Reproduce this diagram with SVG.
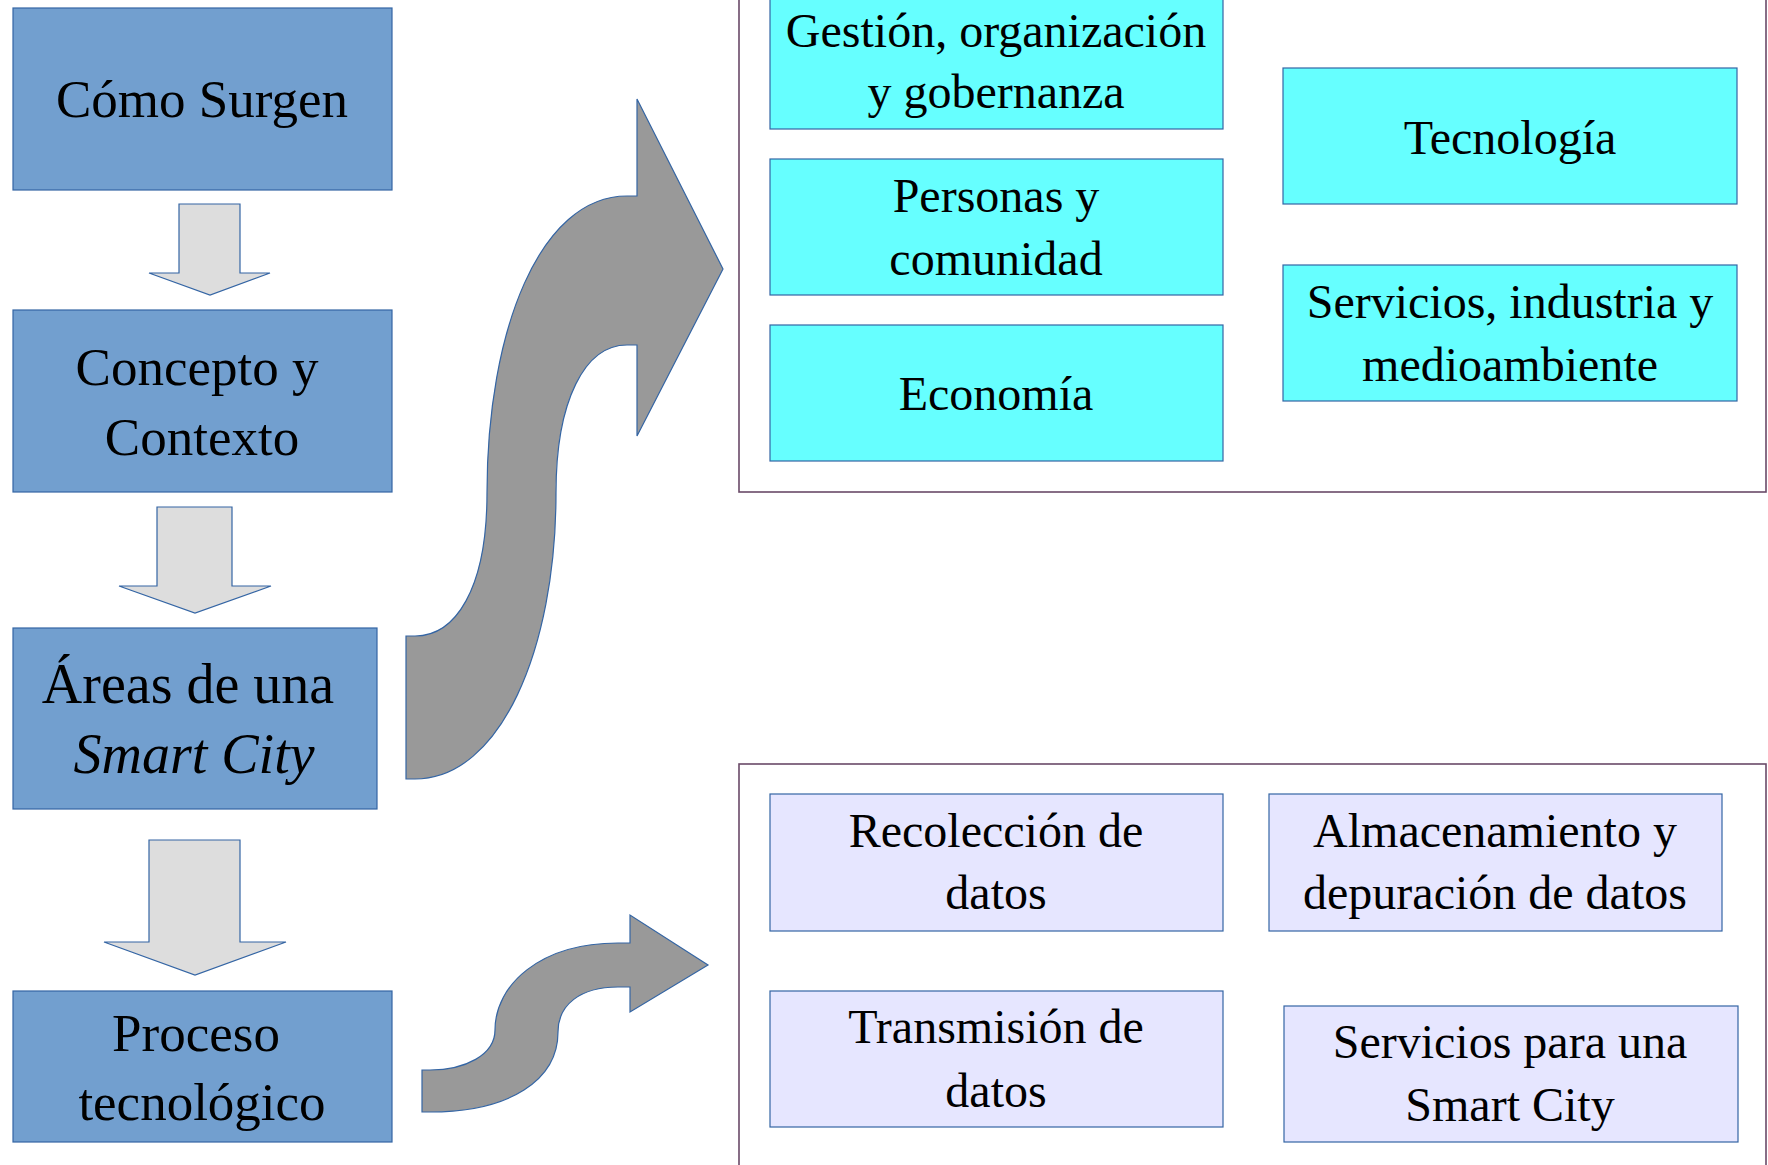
<svg xmlns="http://www.w3.org/2000/svg" width="1768" height="1165" viewBox="0 0 1768 1165">
<style>
.bg{fill:#ffffff}
.main{fill:#729fcf;stroke:#3465a4;stroke-width:1.2}
.cyan{fill:#66ffff;stroke:#3465a4;stroke-width:1.2}
.lav{fill:#e6e6ff;stroke:#3465a4;stroke-width:1.2}
.frame{fill:none;stroke:#6a4a68;stroke-width:1.6}
.down{fill:#dddddd;stroke:#3465a4;stroke-width:1.2}
.curve{fill:#999999;stroke:#3465a4;stroke-width:1.2}
text{font-family:"Liberation Serif","Times New Roman",serif;fill:#000000;text-anchor:middle}
.big{font-size:53px}
.big2{font-size:56px}
.med{font-size:48px}
</style>
<rect class="bg" x="0" y="0" width="1768" height="1165"/>

<g id="frame-areas"><rect class="frame" x="739" y="-10" width="1027" height="502"/></g>
<g id="frame-proceso"><rect class="frame" x="739" y="764" width="1027" height="420"/></g>

<g id="como-surgen">
<rect class="main" x="13" y="8" width="379" height="182"/>
<text class="big" x="202" y="117">Cómo Surgen</text>
</g>
<g id="concepto">
<rect class="main" x="13" y="310" width="379" height="182"/>
<text class="big" x="197" y="385">Concepto y</text>
<text class="big" x="202" y="455">Contexto</text>
</g>
<g id="areas">
<rect class="main" x="13" y="628" width="364" height="181"/>
<text class="big2" x="188" y="703">Áreas de una</text>
<text class="big2" x="194" y="773" font-style="italic">Smart City</text>
</g>
<g id="proceso">
<rect class="main" x="13" y="991" width="379" height="151"/>
<text class="big" x="196" y="1051">Proceso</text>
<text class="big" x="202" y="1120">tecnológico</text>
</g>

<g id="gestion">
<rect class="cyan" x="770" y="-7" width="453" height="136"/>
<text class="med" x="996" y="47">Gestión, organización</text>
<text class="med" x="996" y="108">y gobernanza</text>
</g>
<g id="personas">
<rect class="cyan" x="770" y="159" width="453" height="136"/>
<text class="med" x="996" y="212">Personas y</text>
<text class="med" x="996" y="275">comunidad</text>
</g>
<g id="economia">
<rect class="cyan" x="770" y="325" width="453" height="136"/>
<text class="med" x="996" y="410">Economía</text>
</g>
<g id="tecnologia">
<rect class="cyan" x="1283" y="68" width="454" height="136"/>
<text class="med" x="1510" y="154">Tecnología</text>
</g>
<g id="servicios-industria">
<rect class="cyan" x="1283" y="265" width="454" height="136"/>
<text class="med" x="1510" y="318">Servicios, industria y</text>
<text class="med" x="1510" y="381">medioambiente</text>
</g>

<g id="recoleccion">
<rect class="lav" x="770" y="794" width="453" height="137"/>
<text class="med" x="996" y="847">Recolección de</text>
<text class="med" x="996" y="909">datos</text>
</g>
<g id="almacenamiento">
<rect class="lav" x="1269" y="794" width="453" height="137"/>
<text class="med" x="1495" y="847">Almacenamiento y</text>
<text class="med" x="1495" y="909">depuración de datos</text>
</g>
<g id="transmision">
<rect class="lav" x="770" y="991" width="453" height="136"/>
<text class="med" x="996" y="1043">Transmisión de</text>
<text class="med" x="996" y="1107">datos</text>
</g>
<g id="servicios-smart">
<rect class="lav" x="1284" y="1006" width="454" height="136"/>
<text class="med" x="1510" y="1058">Servicios para una</text>
<text class="med" x="1510" y="1121">Smart City</text>
</g>

<g id="connectors">
<path class="down" d="M179,204 L240,204 L240,273 L270,273 L210,295 L149,273 L179,273 Z"/>
<path class="down" d="M157,507 L232,507 L232,586 L271,586 L195,613 L119,586 L157,586 Z"/>
<path class="down" d="M149,840 L240,840 L240,942 L286,942 L195,975 L104,942 L149,942 Z"/>
<path class="curve" d="M406,636 L415,636 C455,636 487,590 487,493 C487,330 540,196 627,196 L637,196 L637,99 L723,269 L637,436 L637,345 L627,345 C585,345 556,400 556,493 C556,650 500,779 415,779 L406,779 Z"/>
<path class="curve" d="M422,1070 L430,1070 C465,1070 495,1055 495,1030 C495,985 540,943 618,943 L630,943 L630,915 L708,965 L630,1012 L630,987 L618,987 C580,987 558,1005 558,1032 C558,1080 510,1112 430,1112 L422,1112 Z"/>
</g>
</svg>
